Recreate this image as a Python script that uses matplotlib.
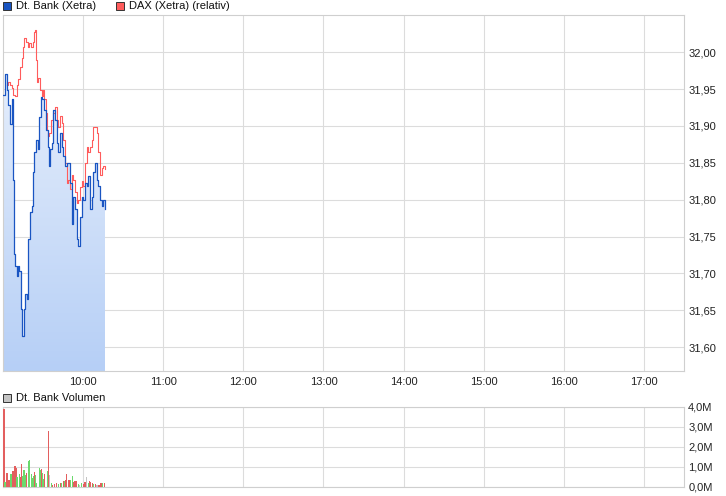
import numpy as np
import matplotlib.pyplot as plt
from matplotlib.patches import Rectangle
from matplotlib.colors import LinearSegmentedColormap
from matplotlib.ticker import FuncFormatter

plt.rcParams['font.family'] = ['Liberation Sans', 'DejaVu Sans']

# Dt. Bank (Xetra): Minuten nach 9:00 und Kurs
bank_min = [0.0, 1.5, 2.8, 4.0, 5.3, 6.5, 7.3, 7.9, 8.3, 9.0, 10.3, 11.5, 12.2,
            13.3, 14.0, 15.2, 15.8, 16.5, 17.8, 19.0, 20.3, 21.5, 22.7, 23.5,
            24.8, 26.0, 27.2, 28.3, 29.5, 31.0, 32.3, 33.5, 34.5, 35.3, 36.5,
            37.7, 39.0, 40.3, 41.5, 42.8, 44.0, 45.2, 46.5, 47.8, 49.0, 50.3,
            51.5, 52.7, 54.0, 55.3, 56.5, 57.8, 59.0, 60.2, 61.5, 62.8, 64.0,
            65.3, 66.5, 67.7, 69.0, 70.3, 71.5, 72.8, 74.0, 75.2, 76.5]
bank_kurs = [31.942, 31.971, 31.949, 31.929, 31.902, 31.936, 31.827, 31.746,
             31.726, 31.710, 31.696, 31.710, 31.703, 31.652, 31.615, 31.615,
             31.652, 31.672, 31.665, 31.746, 31.783, 31.791, 31.837, 31.864,
             31.881, 31.868, 31.912, 31.939, 31.936, 31.922, 31.895, 31.872,
             31.845, 31.868, 31.877, 31.922, 31.908, 31.877, 31.864, 31.891,
             31.872, 31.859, 31.845, 31.850, 31.850, 31.823, 31.767, 31.804,
             31.787, 31.746, 31.737, 31.777, 31.804, 31.800, 31.823, 31.818,
             31.832, 31.787, 31.804, 31.837, 31.850, 31.827, 31.818, 31.800,
             31.791, 31.800, 31.787]

# DAX (Xetra) relativ
dax_min = [3.3, 4.0, 5.3, 6.8, 7.7, 9.0, 10.3, 11.5, 12.8, 14.0, 15.2, 16.0,
           17.3, 18.5, 19.7, 21.0, 22.3, 23.5, 24.3, 24.8, 25.3, 26.5, 27.8,
           29.0, 30.3, 31.0, 32.0, 32.8, 33.5, 34.8, 35.8, 37.0, 37.7, 39.0,
           40.3, 41.5, 42.8, 44.0, 45.2, 46.5, 47.8, 49.0, 50.3, 51.5, 52.7,
           54.0, 55.3, 56.5, 57.8, 59.0, 60.2, 61.5, 62.8, 64.0, 65.3, 66.5,
           67.7, 69.0, 70.3, 71.5, 72.8, 74.0, 75.2, 76.5]
dax_kurs = [31.956, 31.960, 31.956, 31.952, 31.942, 31.940, 31.956, 31.963,
            31.980, 31.992, 32.007, 32.019, 32.014, 32.007, 32.013, 32.007,
            32.014, 32.027, 32.030, 31.990, 31.959, 31.965, 31.949, 31.940,
            31.949, 31.936, 31.918, 31.895, 31.886, 31.891, 31.908, 31.908,
            31.918, 31.926, 31.908, 31.899, 31.913, 31.904, 31.881, 31.850,
            31.823, 31.827, 31.814, 31.834, 31.827, 31.810, 31.796, 31.800,
            31.817, 31.825, 31.818, 31.850, 31.872, 31.864, 31.872, 31.881,
            31.899, 31.898, 31.891, 31.864, 31.834, 31.843, 31.845, 31.841]

# Dt. Bank Volumen (Mio.), r = Minus, g = Plus, n = unverändert
vol_min = [0.8, 1.5, 3.0, 4.5, 6.0, 7.0, 7.8, 9.0, 9.8, 10.5, 12.2, 13.2, 13.8,
           15.0, 15.8, 16.5, 17.8, 19.0, 19.8, 21.2, 22.0, 22.8, 23.5, 24.5,
           25.3, 27.2, 28.0, 28.8, 29.5, 30.2, 31.0, 33.3, 34.2, 35.0, 36.3,
           37.3, 38.8, 40.3, 41.8, 42.8, 44.0, 45.2, 46.0, 47.0, 47.8, 48.8,
           49.5, 50.8, 51.8, 52.8, 54.0, 54.8, 56.3, 57.3, 58.8, 60.3, 61.5,
           62.8, 63.8, 64.8, 65.8, 66.8, 67.8, 69.0, 70.3, 71.8, 73.3, 74.5, 75.8]
vol_mio = [3.90, 0.27, 0.72, 0.35, 0.65, 0.80, 0.80, 1.05, 0.93, 0.48, 0.65,
           0.48, 1.15, 0.55, 0.85, 0.60, 0.72, 1.30, 1.35, 0.65, 0.43, 0.55,
           0.77, 0.60, 0.22, 0.97, 0.85, 0.90, 0.68, 0.40, 0.65, 0.80, 2.80,
           0.60, 0.22, 0.10, 0.15, 0.20, 0.13, 0.20, 0.18, 0.30, 0.30, 0.35,
           0.65, 0.32, 0.35, 0.35, 0.55, 0.27, 0.30, 0.30, 0.15, 0.10, 0.18,
           0.15, 0.27, 0.48, 0.18, 0.30, 0.23, 0.18, 0.15, 0.13, 0.10, 0.10,
           0.18, 0.18, 0.18]
vol_farbe = ['r', 'g', 'r', 'r', 'g', 'r', 'r', 'r', 'r', 'g', 'g', 'r', 'r',
             'g', 'g', 'g', 'r', 'g', 'g', 'g', 'g', 'g', 'r', 'g', 'g', 'g',
             'g', 'r', 'g', 'g', 'r', 'g', 'r', 'n', 'g', 'r', 'r', 'r', 'g',
             'r', 'g', 'r', 'g', 'r', 'r', 'g', 'r', 'g', 'g', 'r', 'r', 'r',
             'g', 'n', 'g', 'r', 'r', 'n', 'g', 'r', 'r', 'r', 'g', 'r', 'n',
             'r', 'r', 'g', 'r']

stunden = [10, 11, 12, 13, 14, 15, 16, 17]
kurs_ticks = [31.60, 31.65, 31.70, 31.75, 31.80, 31.85, 31.90, 31.95, 32.00]
vol_ticks = [0, 1, 2, 3, 4]

y_min, y_max = 31.5676, 32.0504
farben = {'r': '#e35f5f', 'g': '#6cd96c', 'n': '#c4c4c4'}
grid_c = '#dcdcdc'
rand_c = '#cfcfcf'

t_bank = 9 + np.array(bank_min) / 60
t_dax = 9 + np.array(dax_min) / 60
t_vol = 9 + np.array(vol_min) / 60

W, H = 726, 496
fig = plt.figure(figsize=(W / 100, H / 100), dpi=100)
ax1 = fig.add_axes([3 / W, 1 - 371 / H, 681 / W, 356 / H])
ax2 = fig.add_axes([3 / W, 1 - 487 / H, 681 / W, 80 / H])

# Kursverlauf mit Farbverlauf darunter
poly = ax1.fill_between(t_bank, bank_kurs, y_min, step='post',
                        facecolor='none', edgecolor='none')
cmap = LinearSegmentedColormap.from_list('blau', ['#eef4fd', '#b6cff6'])
grad = np.linspace(0, 1, 256).reshape(-1, 1)
im = ax1.imshow(grad, extent=[t_bank[0], t_bank[-1], y_min, y_max],
                origin='upper', aspect='auto', cmap=cmap, zorder=1)
im.set_clip_path(poly.get_paths()[0], transform=ax1.transData)

ax1.plot(t_dax, dax_kurs, color='#ff5c5c', lw=0.8, drawstyle='steps-post', zorder=3)
ax1.plot(t_bank, bank_kurs, color='#1a55c2', lw=0.9, drawstyle='steps-post', zorder=4)

ax1.set_xlim(9, 17.5)
ax1.set_ylim(y_min, y_max)
ax1.set_xticks(stunden)
ax1.set_xticklabels([f'{h}:00' for h in stunden])
ax1.set_yticks(kurs_ticks)
ax1.yaxis.set_major_formatter(FuncFormatter(lambda v, p: f'{v:.2f}'.replace('.', ',')))

# Volumen
ax2.bar(t_vol, vol_mio, width=0.95 / 60, color=[farben[c] for c in vol_farbe],
        linewidth=0, zorder=3)
ax2.set_xlim(9, 17.5)
ax2.set_ylim(0, 4)
ax2.set_xticks(stunden)
ax2.set_xticklabels([])
ax2.set_yticks(vol_ticks)
ax2.yaxis.set_major_formatter(FuncFormatter(lambda v, p: f'{v:.1f}M'.replace('.', ',')))

for ax in (ax1, ax2):
    ax.yaxis.tick_right()
    ax.tick_params(axis='both', length=0, labelsize=8, colors='#222222')
    ax.tick_params(axis='y', pad=3)
    ax.tick_params(axis='x', pad=4)
    ax.grid(True, color=grid_c, lw=0.8, zorder=0)
    ax.set_axisbelow(True)
    for s in ax.spines.values():
        s.set_color(rand_c)
        s.set_linewidth(0.8)

# Legenden als Kästchen + Text
def legende(x, y, farbe, text):
    fig.add_artist(Rectangle((x / W, 1 - (y + 4) / H), 8 / W, 8 / H,
                             transform=fig.transFigure, facecolor=farbe,
                             edgecolor='#333333', lw=0.7))
    fig.text((x + 13) / W, 1 - y / H, text, fontsize=8, va='center',
             color='#111111')

legende(3, 6, '#1a55c2', 'Dt. Bank (Xetra)')
legende(116, 6, '#ff5c5c', 'DAX (Xetra) (relativ)')
legende(3, 398, '#c4c4c4', 'Dt. Bank Volumen')

fig.savefig('out.png', dpi=100)
